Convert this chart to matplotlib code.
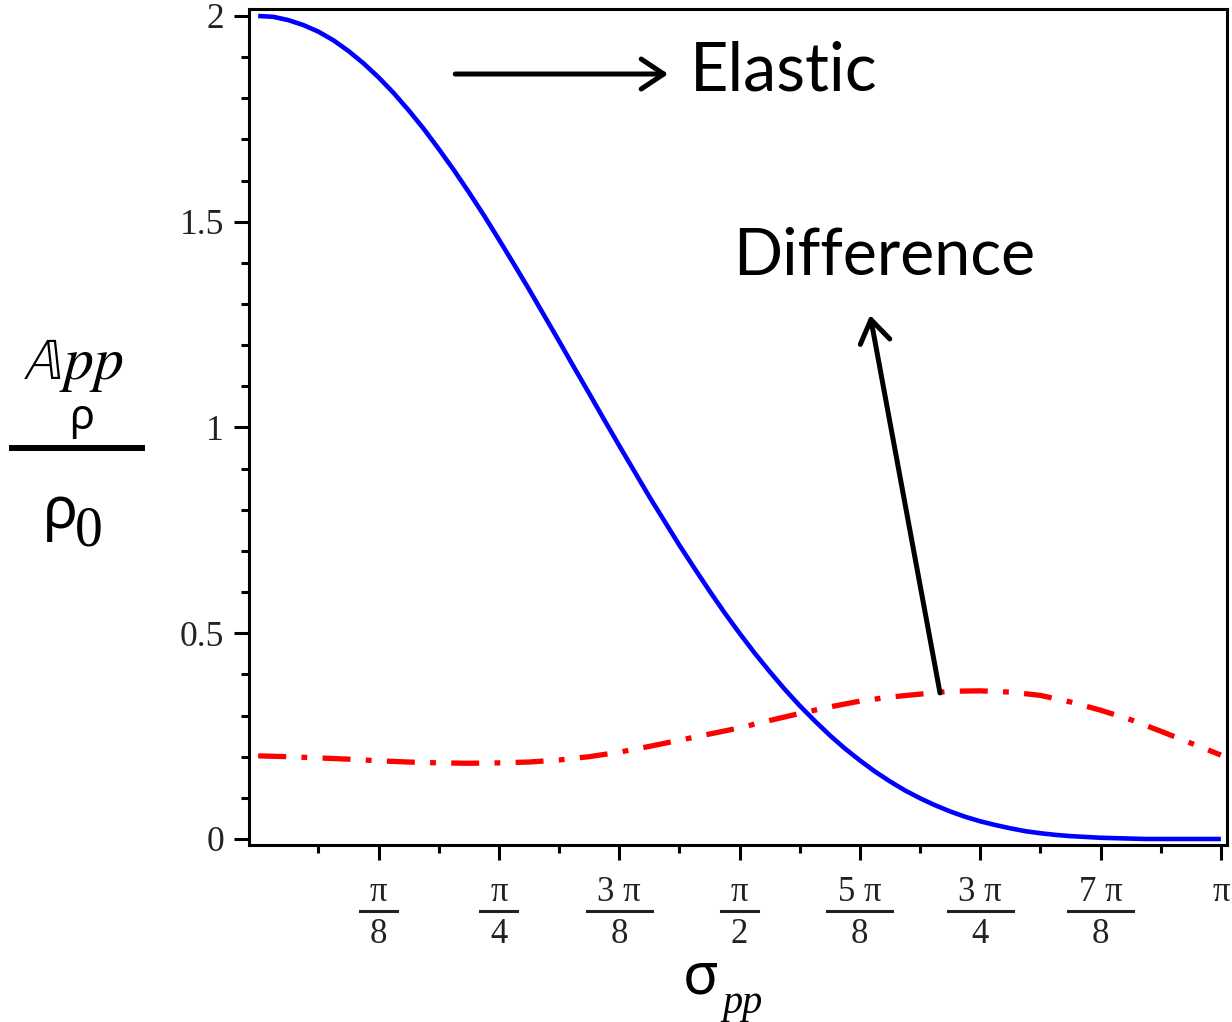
"""
Elastic vs. difference curve, redrawn with matplotlib.
"""

import numpy as np
import matplotlib.pyplot as plt

plt.rcParams["mathtext.fontset"] = "stix"

W, H = 1232, 1022

# sample positions along sigma_pp
sigma_elastic = np.linspace(0, np.pi, 65)
elastic = [2.000, 1.998, 1.990, 1.978, 1.962, 1.941, 1.915, 1.885,
           1.851, 1.813, 1.771, 1.726, 1.677, 1.626, 1.572, 1.516,
           1.457, 1.397, 1.336, 1.273, 1.210, 1.146, 1.083, 1.019,
           0.956, 0.894, 0.832, 0.773, 0.714, 0.658, 0.603, 0.550,
           0.500, 0.452, 0.407, 0.364, 0.324, 0.287, 0.252, 0.220,
           0.191, 0.164, 0.140, 0.118, 0.099, 0.082, 0.067, 0.054,
           0.043, 0.034, 0.026, 0.019, 0.014, 0.010, 0.007, 0.005,
           0.003, 0.002, 0.001, 0.000, 0.000, 0.000, 0.000, 0.000,
           0.000]

sigma_diff = np.linspace(0, np.pi, 33)
difference = [0.202, 0.200, 0.197, 0.194, 0.190, 0.187, 0.185, 0.184,
              0.185, 0.187, 0.192, 0.200, 0.211, 0.225, 0.240, 0.255,
              0.270, 0.288, 0.305, 0.321, 0.335, 0.345, 0.352, 0.359,
              0.360, 0.357, 0.349, 0.333, 0.313, 0.290, 0.262, 0.233,
              0.204]

x_major = [np.pi * k / 8 for k in range(1, 9)]
x_minor = [np.pi * (2 * k + 1) / 16 for k in range(8)]
x_num = ["π", "π", "3 π", "π", "5 π", "3 π", "7 π", "π"]
x_den = ["8", "4", "8", "2", "8", "4", "8", ""]
y_major = [0, 0.5, 1, 1.5, 2]
y_labels = ["0", "0.5", "1", "1.5", "2"]

# annotation anchors (data coords)
elastic_arrow = ((0.643, 1.859), (1.338, 1.859))
elastic_text = (1.409, 1.820)
diff_arrow = ((2.225, 0.355), (1.997, 1.273))
diff_text = (1.550, 1.371)


def fig_xy(px, py):
    """Figure pixel (top-left origin) to figure fraction."""
    return px / W, 1 - py / H


fig = plt.figure(figsize=(W / 100, H / 100), dpi=100)
ax = fig.add_axes([249 / W, 1 - 845 / H, (1227 - 249) / W, (845 - 9) / H])

ax.plot(sigma_elastic, elastic, color="#0000ff", lw=3.3, solid_capstyle="butt")
ax.plot(sigma_diff, difference, color="#ff0000", lw=3.8,
        linestyle=(0, (5.3, 2.9, 1.1, 2.9)), dash_capstyle="butt")

ax.set_xlim(-0.03, np.pi + 0.02)
ax.set_ylim(-0.0146, 2.017)

ax.set_xticks(x_major)
ax.set_xticklabels([""] * len(x_major))
ax.set_xticks(x_minor, minor=True)
ax.set_yticks(y_major)
ax.set_yticklabels(y_labels)
ax.set_yticks(np.arange(0, 2.01, 0.1), minor=True)

for s in ax.spines.values():
    s.set_linewidth(2.2)
ax.tick_params(which="major", direction="out", length=11, width=2.2,
               labelsize=25.5, labelcolor="#222222")
ax.tick_params(which="minor", direction="out", length=5.5, width=2.2)
ax.tick_params(axis="y", which="major", pad=7)
for lab in ax.get_yticklabels():
    lab.set_family("Liberation Serif")

# stacked fraction tick labels under the x axis
for x, num, den in zip(x_major, x_num, x_den):
    px = ax.transData.transform((x, 0))[0]
    fx = px / W
    fig.text(fx, 1 - 901 / H, num, fontsize=25, family="Liberation Serif",
             color="#222222", ha="center", va="baseline")
    if den:
        half = (18.5 if len(num) == 1 else 32.5) / W
        fig.add_artist(plt.Line2D([fx - half, fx + half], [1 - 911 / H] * 2,
                                  color="#222222", lw=2.2,
                                  transform=fig.transFigure))
        fig.text(fx, 1 - 943 / H, den, fontsize=25, family="Liberation Serif",
                 color="#222222", ha="center", va="baseline")

arrow_kw = dict(arrowstyle="->,head_length=0.45,head_width=0.3", lw=3.6,
                color="black", shrinkA=0, shrinkB=0, mutation_scale=36,
                capstyle="round", joinstyle="round")
ax.annotate("", xy=elastic_arrow[1], xytext=elastic_arrow[0], arrowprops=arrow_kw)
ax.annotate("", xy=diff_arrow[1], xytext=diff_arrow[0], arrowprops=arrow_kw)
ax.text(*elastic_text, "Elastic", fontsize=48, family="Lato", va="baseline")
ax.text(*diff_text, "Difference", fontsize=46.5, family="Lato", va="baseline")

# stacked y label
fig.text(*fig_xy(73, 379), r"$\mathbb{A}pp$", fontsize=43, ha="center", va="baseline")
fig.text(*fig_xy(82, 429), "ρ", fontsize=30, family="Noto Sans", ha="center", va="baseline")
fig.add_artist(plt.Line2D([12 / W, 142 / W], [1 - 448 / H] * 2, color="black",
                          lw=4.3, transform=fig.transFigure))
fig.text(*fig_xy(43, 528), "ρ", fontsize=42, family="Noto Sans", va="baseline")
fig.text(*fig_xy(75, 545), "0", fontsize=40, family="Liberation Serif", va="baseline")

# x label
fig.text(*fig_xy(683, 993), "σ", fontsize=42, family="Noto Sans", va="baseline")
fig.text(*fig_xy(722, 1013), "pp", fontsize=29, family="Liberation Serif",
         style="italic", va="baseline")

fig.savefig("out.png", dpi=100)
